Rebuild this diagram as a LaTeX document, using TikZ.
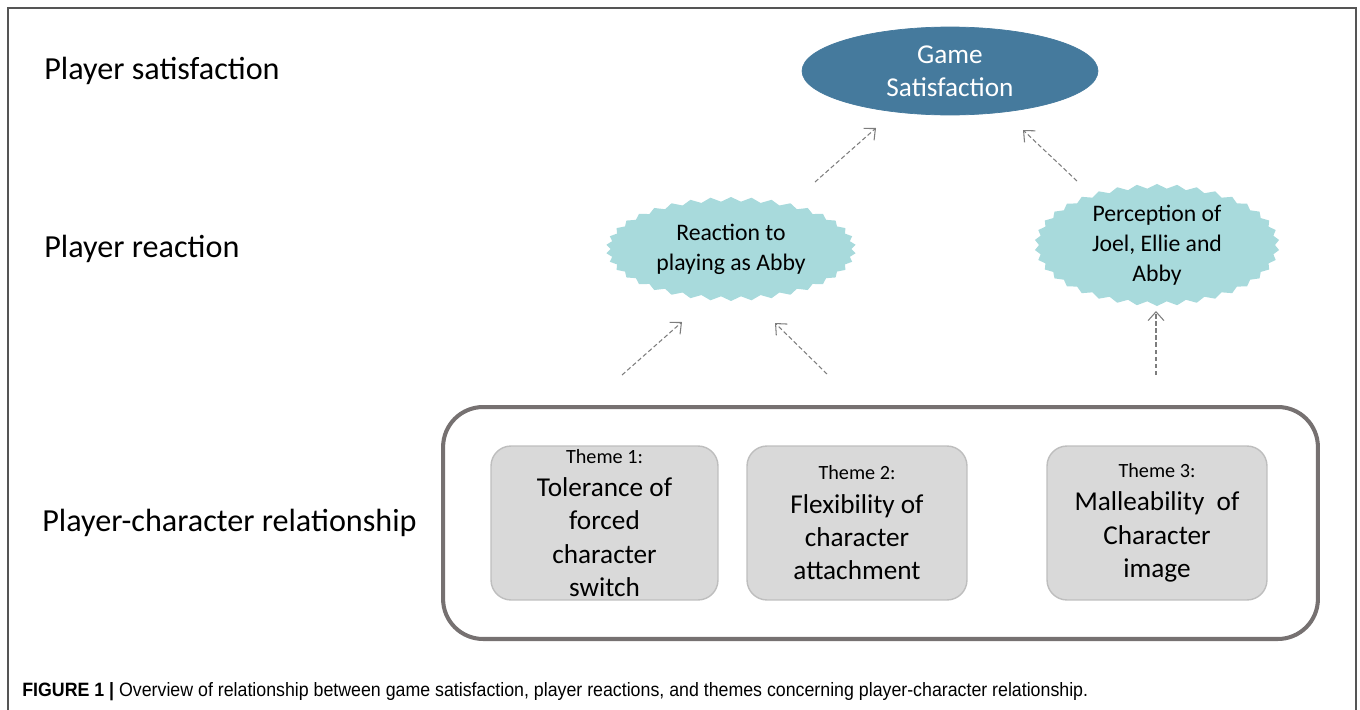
\documentclass[tikz,border=0pt]{standalone}
\usepackage{fontspec}
\setmainfont{Carlito}
\newfontfamily\capfont{Liberation Sans}
\usetikzlibrary{arrows.meta,shapes.geometric,shapes.symbols}

\definecolor{gameblue}{RGB}{69,122,157}
\definecolor{burstteal}{RGB}{168,218,220}
\definecolor{themegray}{RGB}{217,217,217}
\definecolor{themeedge}{RGB}{190,190,190}
\definecolor{boxedge}{RGB}{118,113,113}
\definecolor{arrowgray}{RGB}{125,125,125}
\definecolor{framegray}{RGB}{85,85,85}

\newcommand{\themehead}[1]{{\fontsize{11.5}{14}\selectfont #1}}

\begin{document}
\begin{tikzpicture}[x=0.02cm,y=-0.02cm,
    levellabel/.style={anchor=west,inner sep=0pt,font=\fontsize{18.3}{22}\selectfont},
    gameoval/.style={ellipse,fill=gameblue,draw=gameblue,text=white,minimum width=5.92cm,minimum height=1.76cm,inner sep=0pt,align=center,font=\fontsize{15.5}{19}\selectfont},
    reactburst/.style={starburst,starburst points=38,starburst point height=0.09cm,random starburst=0,fill=burstteal,draw=none,minimum width=5.0cm,minimum height=2.08cm,inner sep=0pt,align=center,font=\fontsize{13.5}{17}\selectfont},
    themebox/.style={rectangle,rounded corners=0.4cm,fill=themegray,draw=themeedge,line width=0.8pt,minimum height=3.08cm,inner xsep=0pt,inner ysep=0pt,align=center,font=\fontsize{15.5}{19}\selectfont},
    groupbox/.style={rectangle,rounded corners=0.8cm,draw=boxedge,line width=2.3pt,minimum width=17.5cm,minimum height=4.64cm},
    linkarrow/.style={draw=arrowgray,line width=0.6pt,dash pattern=on 2.5pt off 1.5pt,-{Straight Barb[length=5pt,width=9pt]}}]

    \useasboundingbox (0,0) rectangle (1360,710);

    % figure frame
    \draw[framegray,line width=1.2pt] (8,710) -- (8,8) -- (1356,8) -- (1356,710);

    % levels
    \node[levellabel] (lvlsat) at (44,71) {Player satisfaction};
    \node[levellabel] (lvlreact) at (44,249) {Player reaction};
    \node[levellabel] (lvlrel) at (42,523) {Player-character relationship};

    %%%%%%%%%%%%%%%%%%%%%%%%%%%%%%%%%%%%%%%%%%%%%%%%%%%%%%

    % game satisfaction
    \node[gameoval] (game) at (950,71) {Game\\Satisfaction};

    % player reactions
    \node[reactburst] (abby) at (731,249) {Reaction to\\playing as Abby};
    \node[reactburst,minimum width=4.9cm] (percep) at (1157,245) {Perception of\\Joel, Ellie and\\Abby};

    %%%%%%%%%%%%%%%%%%%%%%%%%%%%%%%%%%%%%%%%%%%%%%%%%%%%%%

    % box around themes
    \node[groupbox] (relbox) at (880.5,523) {};

    % themes
    \node[themebox,minimum width=4.54cm] (themeA) at (604.5,523) {\themehead{Theme 1:}\\Tolerance of\\forced\\character\\switch};
    \node[themebox,minimum width=4.4cm] (themeB) at (857,523) {\themehead{Theme 2:}\\Flexibility of\\character\\attachment};
    \node[themebox,minimum width=4.4cm] (themeC) at (1157,523) {\themehead{Theme 3:}\\Malleability~ of\\Character\\image};

    %%%%%%%%%%%%%%%%%%%%%%%%%%%%%%%%%%%%%%%%%%%%%%%%%%%%%%

    % arrow ends
    \coordinate (abbyout) at (815,182);
    \coordinate (gamein1) at (876,128);
    \coordinate (percepout) at (1077,181);
    \coordinate (gamein2) at (1023,130);
    \coordinate (themeAout) at (622,375);
    \coordinate (abbyin1) at (682,322);
    \coordinate (themeBout) at (827,374);
    \coordinate (abbyin2) at (775,323);
    \coordinate (themeCout) at (1156,375);
    \coordinate (percepin) at (1156,311);

    % arrows up
    \draw[linkarrow] (abbyout) to (gamein1);
    \draw[linkarrow] (percepout) to (gamein2);
    \draw[linkarrow] (themeAout) to (abbyin1);
    \draw[linkarrow] (themeBout) to (abbyin2);
    \draw[linkarrow] (themeCout) to (percepin);

    % caption
    \node[anchor=base west,inner sep=0pt,font=\capfont\fontsize{11}{13}\selectfont] (caption) at (22,696) {\resizebox{21.32cm}{\height}{\textbf{FIGURE 1 |} Overview of relationship between game satisfaction, player reactions, and themes concerning player-character relationship.}};

\end{tikzpicture}
\end{document}
